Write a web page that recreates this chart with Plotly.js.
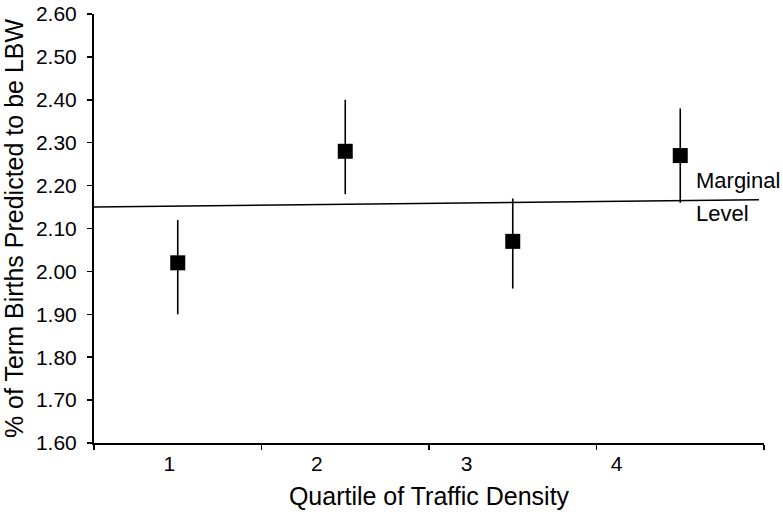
<!DOCTYPE html>
<html>
<head>
<meta charset="utf-8">
<script src="https://cdn.plot.ly/plotly-3.0.1.min.js"></script>
<style>
  html, body { margin: 0; padding: 0; background: #fff; }
  #chart { width: 783px; height: 515px; }
</style>
</head>
<body>
<div id="chart"></div>
<script>
// Quartiles and predicted % LBW with interval ends
const QUARTILES = [1, 2, 3, 4];
const PCT_LBW = [2.02, 2.28, 2.07, 2.27];
const CI_UPPER = [2.12, 2.40, 2.17, 2.38];
const CI_LOWER = [1.90, 2.18, 1.96, 2.16];

// Marginal level line (ends)
const MARGINAL_X = [0.5, 4.47];
const MARGINAL_Y = [2.15, 2.167];

// Tick labels (drawn slightly left of the category centres, like the original)
const TICK_LABELS = ["1", "2", "3", "4"];
const TICK_LABEL_POS = [0.95, 1.83, 2.725, 3.62];
const CATEGORY_EDGES = [0.5, 1.5, 2.5, 3.5, 4.5];
const Y_TICKS = [1.6, 1.7, 1.8, 1.9, 2.0, 2.1, 2.2, 2.3, 2.4, 2.5, 2.6];

const FONT = {family: "Liberation Sans, Arial, sans-serif", size: 21, color: "#000"};

const data = [
  {
    x: MARGINAL_X,
    y: MARGINAL_Y,
    mode: "lines",
    type: "scatter",
    line: {color: "#000", width: 1.6},
    hoverinfo: "skip"
  },
  {
    x: QUARTILES,
    y: PCT_LBW,
    mode: "markers",
    type: "scatter",
    marker: {symbol: "square", size: 15, color: "#000"},
    error_y: {
      type: "data",
      symmetric: false,
      array: CI_UPPER.map((v, i) => v - PCT_LBW[i]),
      arrayminus: PCT_LBW.map((v, i) => v - CI_LOWER[i]),
      color: "#000",
      thickness: 1.6,
      width: 0
    }
  },
  // invisible trace so xaxis2 (the tick labels) is drawn
  {
    x: QUARTILES,
    y: PCT_LBW,
    xaxis: "x2",
    mode: "markers",
    type: "scatter",
    marker: {opacity: 0},
    hoverinfo: "skip"
  }
];

const layout = {
  width: 783,
  height: 515,
  margin: {l: 94, r: 19, t: 14, b: 72},
  paper_bgcolor: "#fff",
  plot_bgcolor: "#fff",
  showlegend: false,
  font: FONT,
  xaxis: {
    range: [0.5, 4.5],
    tickmode: "array",
    tickvals: CATEGORY_EDGES,
    showticklabels: false,
    ticks: "outside",
    ticklen: 5,
    tickwidth: 1.5,
    tickcolor: "#000",
    showgrid: false,
    zeroline: false,
    showline: true,
    linecolor: "#000",
    linewidth: 2,
    automargin: false,
    title: {text: "Quartile of Traffic Density", font: {size: 25}, standoff: 38}
  },
  xaxis2: {
    overlaying: "x",
    anchor: "y",
    side: "bottom",
    range: [0.5, 4.5],
    tickmode: "array",
    tickvals: TICK_LABEL_POS,
    ticktext: TICK_LABELS,
    ticks: "",
    ticklabelstandoff: 6,
    showgrid: false,
    zeroline: false,
    showline: false,
    automargin: false,
    tickfont: {size: 21}
  },
  yaxis: {
    range: [1.6, 2.6],
    tickmode: "array",
    tickvals: Y_TICKS,
    tickformat: ".2f",
    ticks: "outside",
    ticklen: 5,
    tickwidth: 1.5,
    tickcolor: "#000",
    ticklabelstandoff: 6,
    showgrid: false,
    zeroline: false,
    showline: true,
    linecolor: "#000",
    linewidth: 2,
    automargin: false,
    title: {text: "% of Term Births Predicted to be LBW", font: {size: 25}, standoff: 8}
  },
  annotations: [
    {x: 4.08, y: 2.213, xref: "x", yref: "y", text: "Marginal", showarrow: false, xanchor: "left", font: {size: 22}},
    {x: 4.08, y: 2.134, xref: "x", yref: "y", text: "Level", showarrow: false, xanchor: "left", font: {size: 22}}
  ]
};

Plotly.newPlot("chart", data, layout, {displayModeBar: false, staticPlot: true});
</script>
</body>
</html>
